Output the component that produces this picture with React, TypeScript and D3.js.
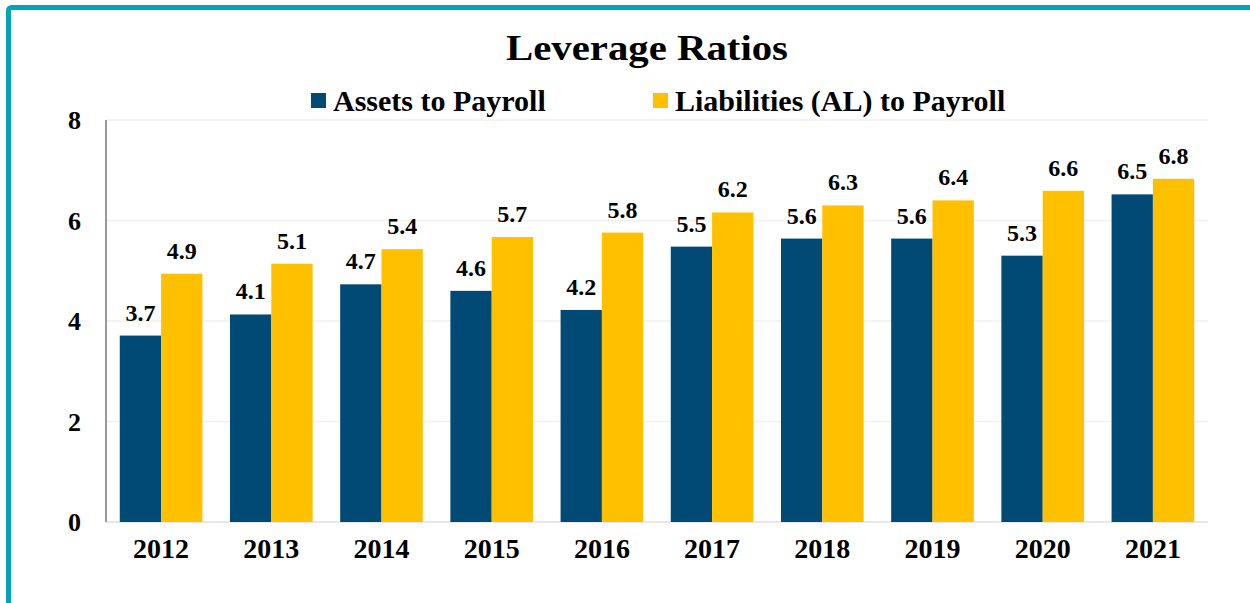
import React, { useEffect, useRef } from 'react';
import * as d3 from 'd3';

const years = ['2012', '2013', '2014', '2015', '2016', '2017', '2018', '2019', '2020', '2021'];
const assetsToPayroll = [3.71, 4.13, 4.73, 4.6, 4.22, 5.48, 5.64, 5.64, 5.3, 6.52];
const liabilitiesToPayroll = [4.94, 5.14, 5.43, 5.67, 5.76, 6.16, 6.3, 6.4, 6.59, 6.83];
const seriesNames = ['Assets to Payroll', 'Liabilities (AL) to Payroll'];
const yTicks = [0, 2, 4, 6, 8];

const W = 1250;
const H = 603;
const FONT = '"Liberation Serif", "Times New Roman", serif';
const colors = ['#014A76', '#FFC000'];

const Chart: React.FC = () => {
    const svgRef = useRef<SVGSVGElement>(null);

    useEffect(() => {
        if (!svgRef.current) return;
        const svg = d3.select(svgRef.current);
        svg.selectAll('*').remove();

        const left = 106, right = 1208, top = 120, bottom = 522;

        // frame
        svg.append('rect')
            .attr('x', 8.5).attr('y', 7.5)
            .attr('width', 1400).attr('height', 800)
            .attr('rx', 3)
            .style('fill', 'none')
            .style('stroke', '#00A6B8')
            .style('stroke-width', 5);

        const x = d3.scaleBand<string>().domain(years).range([left, right]).paddingInner(0.25).paddingOuter(0.125);
        const x1 = d3.scaleBand<string>().domain(['a', 'l']).range([0, x.bandwidth()]);
        const y = d3.scaleLinear().domain([0, 8]).range([bottom, top]);

        // grid
        svg.append('g')
            .selectAll('line')
            .data(yTicks)
            .join('line')
            .attr('x1', left)
            .attr('x2', right)
            .attr('y1', d => y(d))
            .attr('y2', d => y(d))
            .style('stroke', d => (d === 0 ? '#e0e0e0' : '#f0f0f0'))
            .style('stroke-width', 1.5);

        // y axis line
        svg.append('line')
            .attr('x1', left).attr('x2', left)
            .attr('y1', y(8)).attr('y2', y(0))
            .style('stroke', '#777')
            .style('stroke-width', 1.5);

        svg.append('g')
            .selectAll('text')
            .data(yTicks)
            .join('text')
            .attr('x', 81)
            .attr('y', d => y(d) + 9)
            .attr('text-anchor', 'end')
            .style('font-family', FONT)
            .style('font-weight', 'bold')
            .style('font-size', '26px')
            .text(d => d);

        const groups = svg.append('g')
            .selectAll('g')
            .data(years)
            .join('g')
            .attr('transform', d => `translate(${x(d)},0)`);

        const vals = (i: number) => [
            { k: 'a', v: assetsToPayroll[i], c: colors[0] },
            { k: 'l', v: liabilitiesToPayroll[i], c: colors[1] },
        ];

        groups.selectAll('rect')
            .data((_, i) => vals(i))
            .join('rect')
            .attr('x', d => x1(d.k)!)
            .attr('width', x1.bandwidth())
            .attr('y', d => y(d.v))
            .attr('height', d => y(0) - y(d.v))
            .style('fill', d => d.c);

        groups.selectAll('text')
            .data((_, i) => vals(i))
            .join('text')
            .attr('x', d => x1(d.k)! + x1.bandwidth() / 2)
            .attr('y', d => y(d.v) - 15)
            .attr('text-anchor', 'middle')
            .style('font-family', FONT)
            .style('font-weight', 'bold')
            .style('font-size', '24px')
            .text(d => d3.format('.1f')(d.v));

        // x labels
        svg.append('g')
            .selectAll('text')
            .data(years)
            .join('text')
            .attr('x', d => x(d)! + x.bandwidth() / 2)
            .attr('y', 558)
            .attr('text-anchor', 'middle')
            .style('font-family', FONT)
            .style('font-weight', 'bold')
            .style('font-size', '28px')
            .text(d => d);

        // title
        svg.append('text')
            .attr('x', 506).attr('y', 60)
            .attr('textLength', 282)
            .attr('lengthAdjust', 'spacingAndGlyphs')
            .style('font-family', FONT)
            .style('font-weight', 'bold')
            .style('font-size', '36px')
            .text('Leverage Ratios');

        // legend
        const legendX = [311, 653];
        const lg = svg.append('g')
            .selectAll('g')
            .data(seriesNames)
            .join('g')
            .attr('transform', (_, i) => `translate(${legendX[i]},0)`);
        lg.append('rect')
            .attr('x', 0).attr('y', 93)
            .attr('width', 15).attr('height', 15)
            .style('fill', (_, i) => colors[i]);
        lg.append('text')
            .attr('x', 22).attr('y', 111)
            .style('font-family', FONT)
            .style('font-weight', 'bold')
            .style('font-size', '30px')
            .text(d => d);
    }, []);

    return <svg ref={svgRef} width={W} height={H} style={{ position: 'absolute', left: 0, top: 0, background: '#fff' }} />;
};

const App: React.FC = () => <Chart />;

export default App;
